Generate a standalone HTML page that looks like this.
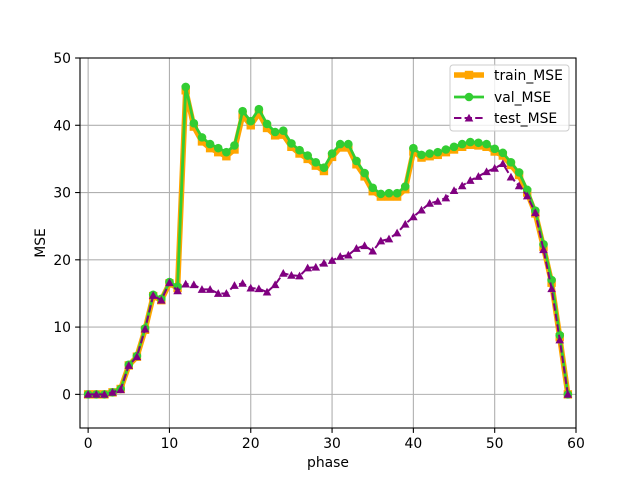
<!DOCTYPE html>
<html><head><meta charset="utf-8"><style>
body{margin:0;background:#fff;}
svg text{font-family:"DejaVu Sans","Liberation Sans",sans-serif;}
</style></head><body>
<svg id="chart" width="640" height="480" xmlns="http://www.w3.org/2000/svg"></svg>
<script>
const phases = Array.from({length:60},(_,i)=>i);
const valMSE = [0,0,0,0.3,0.8,4.4,5.7,9.8,14.8,14.2,16.7,16.0,45.7,40.3,38.2,37.2,36.6,36.0,37.0,42.1,40.6,42.4,40.2,39.0,39.2,37.3,36.3,35.5,34.5,33.7,35.8,37.2,37.2,34.7,32.9,30.7,29.8,29.9,29.9,30.9,36.6,35.6,35.8,36.0,36.4,36.8,37.2,37.5,37.4,37.2,36.5,35.9,34.5,33.0,30.4,27.3,22.3,17.0,8.8,0];
const trainMSE = [0,0,0,0.3,0.8,4.3,5.6,9.6,14.6,14.0,16.5,15.8,45.2,39.8,37.6,36.6,36.0,35.4,36.4,41.5,40.0,41.8,39.6,38.5,38.6,36.8,35.8,35.0,34.0,33.2,35.3,36.7,36.7,34.2,32.4,30.2,29.4,29.4,29.4,30.5,36.1,35.2,35.4,35.6,36.0,36.4,36.8,37.1,37.0,36.8,36.1,35.5,34.1,32.6,30.0,26.9,21.9,16.6,8.5,0];
const testMSE = [0,0,0,0.3,0.7,4.3,5.6,9.7,14.7,14.0,16.6,15.4,16.4,16.3,15.6,15.6,15.0,15.0,16.2,16.5,15.8,15.7,15.2,16.3,18.0,17.7,17.6,18.8,18.9,19.5,19.9,20.5,20.7,21.7,22.1,21.3,22.8,23.1,24.0,25.3,26.4,27.4,28.4,28.7,29.2,30.3,31.0,31.8,32.4,33.1,33.6,34.3,32.3,31.0,29.5,27.0,21.5,15.7,8.1,0];
const xTicks = [0,10,20,30,40,50,60];
const yTicks = [0,10,20,30,40,50];

const NS="http://www.w3.org/2000/svg";
const svg=document.getElementById('chart');
const L=80,R=576,T=58,B=428,X0=-1,X1=60,Y0=-5,Y1=50;
const FS=13.9;
const sx=v=>L+(v-X0)/(X1-X0)*(R-L);
const sy=v=>B-(v-Y0)/(Y1-Y0)*(B-T);
function mk(tag,attrs,parent){const e=document.createElementNS(NS,tag);for(const k in attrs)e.setAttribute(k,attrs[k]);(parent||svg).appendChild(e);return e;}

const grid=mk('g',{});


xTicks.forEach(t=>{
  const l=mk('line',{x1:sx(t),x2:sx(t),y1:T,y2:B,stroke:'#b0b0b0','stroke-width':1.1},grid);
  
  
  const tk=mk('line',{x1:sx(t),x2:sx(t),y1:B,y2:B+4.9,stroke:'#000','stroke-width':1.1});
  
  
  const tx=mk('text',{x:sx(t),y:B+20,'font-size':FS,'text-anchor':'middle'});
  tx.textContent=t;
  
  
});
yTicks.forEach(t=>{
  const l=mk('line',{x1:L,x2:R,y1:sy(t),y2:sy(t),stroke:'#b0b0b0','stroke-width':1.1},grid);
  
  
  const tk=mk('line',{x1:L-4.9,x2:L,y1:sy(t),y2:sy(t),stroke:'#000','stroke-width':1.1});
  
  
  const tx=mk('text',{x:L-9,y:sy(t)+5,'font-size':FS,'text-anchor':'end'});
  tx.textContent=t;
  
  
});

function pts(arr){return arr.map((v,i)=>sx(phases[i])+','+sy(v)).join(' ');}
function tri(x,y,s){return `${x},${y-s} ${x-s},${y+s*0.8} ${x+s},${y+s*0.8}`;}

const gTrain=mk('g',{});


mk('polyline',{points:pts(trainMSE),fill:'none',stroke:'orange','stroke-width':5.5},gTrain);
trainMSE.forEach((v,i)=>{const m=mk('rect',{x:sx(phases[i])-4.2,y:sy(v)-4.2,width:8.4,height:8.4,fill:'orange'},gTrain);
  
  });

const gVal=mk('g',{});


mk('polyline',{points:pts(valMSE),fill:'none',stroke:'#32cd32','stroke-width':2.8},gVal);
valMSE.forEach((v,i)=>{const m=mk('circle',{cx:sx(phases[i]),cy:sy(v),r:4.3,fill:'#32cd32'},gVal);
  
  });

const gTest=mk('g',{});


mk('polyline',{points:pts(testMSE),fill:'none',stroke:'purple','stroke-width':2,'stroke-dasharray':'7.4,3.2'},gTest);
testMSE.forEach((v,i)=>{const m=mk('polygon',{points:tri(sx(phases[i]),sy(v),4.3),fill:'purple'},gTest);
  
  });

const frame=mk('rect',{x:L,y:T,width:R-L,height:B-T,fill:'none',stroke:'#000','stroke-width':1.1});



const xt=mk('text',{x:(L+R)/2,y:467,'font-size':FS,'text-anchor':'middle'});xt.textContent='phase';


const yt=mk('text',{x:45,y:(T+B)/2,'font-size':FS,'text-anchor':'middle',transform:`rotate(-90 45 ${(T+B)/2})`});yt.textContent='MSE';



const lg=mk('g',{});


mk('rect',{x:450,y:65,width:119,height:66,rx:3,fill:'#fff','fill-opacity':0.8,stroke:'#ccc','stroke-width':1},lg);
const entries=[['train_MSE',75],['val_MSE',97],['test_MSE',118]];
entries.forEach(([n,y],k)=>{
  const e=mk('g',{},lg);
  
  
  if(k===0){mk('line',{x1:454,x2:484,y1:y,y2:y,stroke:'orange','stroke-width':5.5},e);mk('rect',{x:464.8,y:y-4.2,width:8.4,height:8.4,fill:'orange'},e);}
  if(k===1){mk('line',{x1:454,x2:484,y1:y,y2:y,stroke:'#32cd32','stroke-width':2.8},e);mk('circle',{cx:469,cy:y,r:4.3,fill:'#32cd32'},e);}
  if(k===2){mk('line',{x1:454,x2:484,y1:y,y2:y,stroke:'purple','stroke-width':2,'stroke-dasharray':'7.4,3.2'},e);mk('polygon',{points:tri(469,y,4.3),fill:'purple'},e);}
  const t=mk('text',{x:494,y:y+5,'font-size':FS},e);t.textContent=n;
});
</script>
</body></html>
